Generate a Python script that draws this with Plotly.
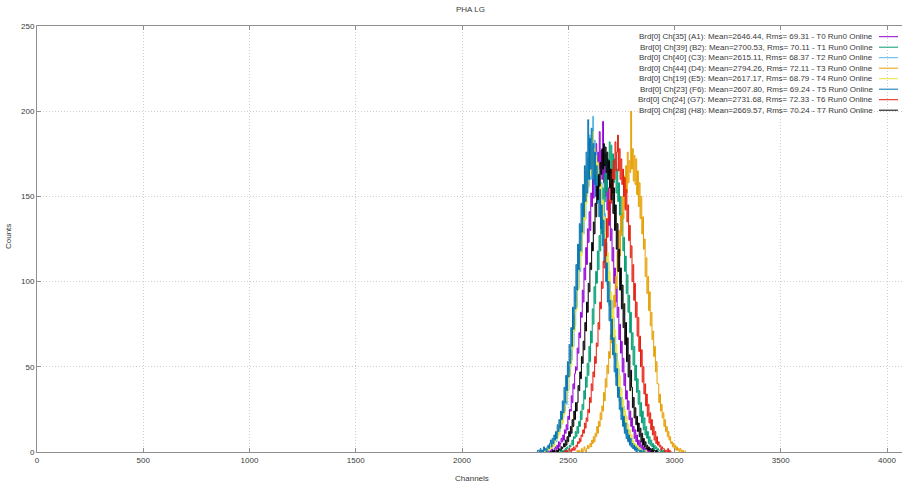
import plotly.graph_objects as go

# Per-board channel statistics shown in the key
channel_ids = ["Ch[35] (A1)", "Ch[39] (B2)", "Ch[40] (C3)", "Ch[44] (D4)",
               "Ch[19] (E5)", "Ch[23] (F6)", "Ch[24] (G7)", "Ch[28] (H8)"]
means = [2646.44, 2700.53, 2615.11, 2794.26, 2617.17, 2607.80, 2731.68, 2669.57]
rms_values = [69.31, 70.11, 68.37, 72.11, 68.79, 69.24, 72.33, 70.24]
tags = ["T0", "T1", "T2", "T3", "T4", "T5", "T6", "T7"]
colors = ["#9400d3", "#009e73", "#56b4e9", "#e69f00",
          "#f0e442", "#0072b2", "#e51e10", "#000000"]

# Counts per channel, sampled every BIN channels around each mean (129 samples)
BIN = 4
counts_a1 = [0, 0, 0, 1, 0, 0, 1, 0, 2, 1, 0, 2, 3, 1, 4, 2,
             6, 3, 5, 8, 6, 10, 7, 13, 11, 16, 13, 21, 19, 25, 24, 33,
             29, 40, 37, 46, 50, 48, 61, 58, 70, 67, 82, 79, 95, 88, 108, 101,
             120, 110, 131, 123, 141, 130, 152, 144, 160, 149, 170, 158, 181, 163, 176, 166,
             188, 164, 177, 160, 194, 158, 169, 150, 163, 142, 155, 133, 147, 124, 131, 112,
             120, 99, 108, 88, 97, 79, 85, 66, 75, 58, 65, 47, 55, 39, 46, 31,
             36, 25, 30, 19, 24, 15, 20, 12, 15, 8, 13, 6, 10, 4, 7, 3,
             6, 2, 4, 1, 3, 1, 2, 0, 2, 0, 1, 0, 1, 0, 0, 1,
             0]
counts_b2 = [0, 1, 0, 0, 0, 2, 0, 1, 0, 1, 2, 0, 3, 2, 1, 4,
             3, 5, 7, 4, 9, 8, 12, 9, 15, 11, 18, 15, 24, 19, 28, 25,
             36, 31, 44, 38, 52, 45, 62, 53, 71, 64, 84, 75, 97, 87, 106, 99,
             118, 107, 127, 118, 143, 128, 155, 139, 163, 147, 175, 153, 172, 162, 182, 164,
             180, 163, 175, 158, 172, 170, 152, 166, 147, 158, 139, 150, 129, 140, 118, 126,
             106, 115, 93, 104, 82, 92, 70, 82, 60, 70, 51, 62, 42, 51, 35, 43,
             28, 36, 21, 29, 17, 24, 13, 20, 10, 15, 8, 12, 5, 9, 4, 7,
             3, 5, 1, 4, 2, 3, 0, 2, 1, 1, 0, 2, 0, 1, 0, 0,
             1]
counts_c3 = [1, 0, 0, 0, 1, 0, 1, 2, 0, 1, 0, 3, 1, 2, 3, 5,
             2, 6, 4, 7, 9, 6, 12, 10, 14, 12, 19, 16, 23, 20, 29, 24,
             35, 28, 43, 36, 50, 45, 60, 54, 72, 62, 80, 74, 94, 85, 107, 96,
             121, 106, 133, 117, 145, 128, 156, 137, 165, 150, 172, 156, 186, 160, 177, 168,
             197, 161, 183, 157, 176, 152, 170, 148, 166, 139, 158, 131, 148, 121, 140, 111,
             123, 98, 112, 86, 100, 77, 89, 64, 79, 55, 68, 44, 58, 36, 49, 30,
             38, 24, 32, 17, 27, 13, 22, 10, 17, 7, 13, 5, 10, 3, 8, 2,
             5, 2, 3, 0, 4, 1, 2, 0, 1, 2, 0, 1, 0, 1, 0, 0,
             0]
counts_d4 = [0, 1, 0, 1, 0, 0, 2, 0, 1, 3, 1, 0, 2, 4, 2, 3,
             5, 3, 7, 5, 9, 6, 11, 9, 15, 11, 18, 15, 23, 19, 27, 24,
             35, 30, 43, 38, 51, 46, 59, 55, 69, 64, 80, 73, 92, 85, 103, 96,
             118, 106, 130, 115, 139, 127, 150, 137, 162, 143, 168, 152, 176, 158, 171, 164,
             200, 166, 178, 159, 174, 157, 172, 151, 165, 144, 158, 137, 150, 128, 138, 119,
             125, 103, 114, 93, 103, 83, 94, 74, 82, 66, 71, 56, 62, 47, 53, 40,
             40, 29, 34, 24, 28, 20, 23, 15, 19, 12, 15, 9, 12, 7, 9, 5,
             6, 3, 5, 2, 4, 1, 3, 1, 2, 0, 2, 1, 0, 1, 0, 0,
             1]
counts_e5 = [0, 0, 1, 0, 0, 0, 1, 1, 0, 2, 1, 3, 1, 2, 4, 2,
             6, 4, 3, 8, 7, 10, 8, 13, 10, 17, 14, 20, 17, 27, 22, 31,
             30, 39, 36, 47, 44, 56, 51, 64, 61, 77, 71, 88, 83, 99, 95, 111,
             108, 124, 115, 136, 128, 147, 136, 158, 146, 166, 155, 174, 162, 179, 168, 188,
             165, 178, 162, 174, 158, 170, 151, 163, 146, 157, 138, 148, 128, 138, 117, 129,
             108, 117, 96, 106, 85, 94, 74, 84, 64, 72, 55, 63, 45, 53, 38, 45,
             30, 37, 23, 31, 18, 25, 14, 21, 11, 16, 8, 13, 6, 10, 4, 7,
             3, 5, 2, 4, 1, 3, 0, 2, 1, 1, 0, 1, 0, 0, 1, 0,
             0]
counts_f6 = [0, 1, 1, 0, 2, 0, 1, 0, 3, 1, 2, 0, 3, 4, 2, 5,
             7, 3, 8, 5, 10, 7, 12, 8, 16, 12, 19, 14, 24, 19, 30, 23,
             38, 29, 45, 36, 53, 44, 63, 52, 73, 62, 85, 72, 97, 84, 110, 95,
             122, 107, 134, 118, 146, 129, 157, 138, 168, 147, 176, 152, 195, 160, 184, 166,
             190, 160, 181, 157, 176, 150, 168, 146, 162, 138, 154, 131, 145, 121, 136, 111,
             122, 100, 111, 88, 100, 77, 89, 66, 78, 57, 67, 47, 58, 39, 49, 32,
             38, 25, 32, 19, 26, 15, 21, 11, 17, 8, 13, 6, 10, 4, 8, 3,
             5, 2, 4, 1, 3, 0, 2, 1, 1, 0, 1, 0, 0, 1, 0, 0,
             0]
counts_g7 = [0, 0, 1, 0, 1, 0, 0, 2, 1, 0, 2, 1, 3, 1, 2, 4,
             3, 6, 5, 8, 6, 10, 9, 13, 11, 17, 14, 20, 18, 25, 23, 32,
             29, 40, 36, 47, 44, 56, 52, 64, 62, 76, 72, 88, 84, 100, 96, 112,
             108, 125, 115, 137, 126, 148, 136, 157, 146, 166, 152, 171, 160, 182, 165, 176,
             186, 165, 178, 160, 172, 157, 166, 150, 161, 142, 154, 135, 145, 124, 133, 114,
             121, 100, 110, 89, 99, 79, 88, 68, 79, 59, 68, 50, 60, 41, 50, 34,
             40, 27, 34, 21, 28, 17, 23, 13, 19, 10, 15, 7, 12, 5, 9, 4,
             6, 3, 4, 1, 3, 2, 2, 0, 1, 1, 0, 2, 0, 1, 0, 0,
             0]
counts_h8 = [0, 0, 0, 1, 0, 1, 0, 0, 1, 0, 2, 1, 1, 3, 2, 3,
             5, 3, 7, 4, 9, 6, 12, 9, 15, 11, 19, 15, 24, 19, 29, 24,
             29, 39, 36, 47, 43, 56, 52, 65, 60, 76, 71, 88, 82, 99, 94, 111,
             107, 123, 118, 135, 128, 146, 138, 156, 148, 163, 156, 170, 163, 178, 166, 181,
             168, 179, 164, 176, 160, 171, 155, 166, 148, 160, 140, 155, 130, 145, 119, 134,
             106, 119, 95, 108, 84, 98, 73, 87, 63, 76, 53, 67, 44, 57, 36, 48,
             38, 26, 32, 20, 26, 16, 21, 12, 17, 9, 14, 6, 11, 4, 8, 3,
             6, 2, 4, 1, 3, 1, 2, 0, 2, 0, 1, 1, 0, 1, 0, 0,
             0]

all_counts = [counts_a1, counts_b2, counts_c3, counts_d4,
              counts_e5, counts_f6, counts_g7, counts_h8]

x_ticks = [0, 500, 1000, 1500, 2000, 2500, 3000, 3500, 4000]
y_ticks = [0, 50, 100, 150, 200, 250]

W, H = 902, 484
ML, MR, MT, MB = 37, 0, 26, 32
PX_PER_CH = 0.2125
x_max = (W - ML - MR) / PX_PER_CH

FONT = "Liberation Sans"
TXT = "#3a3a3a"

fig = go.Figure()
for ch, m, cnt, col in zip(channel_ids, means, all_counts, colors):
    half = (len(cnt) - 1) // 2
    start = int(round(m)) - BIN * half
    xs = [start + BIN * i for i in range(len(cnt))]
    fig.add_trace(go.Scatter(
        x=xs, y=cnt, mode="lines",
        line=dict(color=col, width=1, shape="hv"),
        name=ch, showlegend=False, hoverinfo="skip",
    ))

axis_common = dict(
    showline=True, linecolor="#8f8f8f", linewidth=1,
    ticks="inside", ticklen=4, tickcolor="#8f8f8f",
    showgrid=True, gridcolor="#cfcfcf", griddash="1px,2px", gridwidth=1,
    zeroline=False,
    tickfont=dict(family=FONT, size=8, color=TXT),
)

fig.update_layout(
    width=W, height=H,
    margin=dict(l=ML, r=MR, t=MT, b=MB),
    paper_bgcolor="white", plot_bgcolor="white",
    xaxis=dict(range=[0, x_max], tickvals=x_ticks, mirror="ticks", **axis_common),
    yaxis=dict(range=[0, 250], tickvals=y_ticks, mirror=False, **axis_common),
    font=dict(family=FONT, size=8, color=TXT),
)

plot_w = W - ML - MR
plot_h = H - MT - MB


def px_x(px):
    return (px - ML) / plot_w


def px_y(py):
    return (H - MB - py) / plot_h


annotations = [
    dict(text="PHA LG", x=px_x(470), y=px_y(10), xref="paper", yref="paper",
         showarrow=False, xanchor="center", yanchor="middle",
         font=dict(family=FONT, size=8, color=TXT)),
    dict(text="Channels", x=px_x(472), y=px_y(478), xref="paper", yref="paper",
         showarrow=False, xanchor="center", yanchor="middle",
         font=dict(family=FONT, size=8, color=TXT)),
    dict(text="Counts", x=px_x(8), y=px_y(237), xref="paper", yref="paper",
         showarrow=False, xanchor="center", yanchor="middle", textangle=-90,
         font=dict(family=FONT, size=8, color=TXT)),
]

shapes = []
row0, row_step = 36.7, 10.5
for i, (ch, m, r, t, col) in enumerate(zip(channel_ids, means, rms_values, tags, colors)):
    yy = px_y(row0 + row_step * i)
    label = f"Brd[0] {ch}: Mean={m:.2f}, Rms= {r:.2f} - {t} Run0 Online"
    annotations.append(dict(
        text=label, x=px_x(875), y=yy, xref="paper", yref="paper",
        showarrow=False, xanchor="right", yanchor="middle",
        font=dict(family=FONT, size=8, color=TXT)))
    shapes.append(dict(
        type="line", xref="paper", yref="paper",
        x0=px_x(879), x1=px_x(898), y0=yy, y1=yy,
        line=dict(color=col, width=1)))

fig.update_layout(annotations=annotations, shapes=shapes)

fig.write_html("out.html")
